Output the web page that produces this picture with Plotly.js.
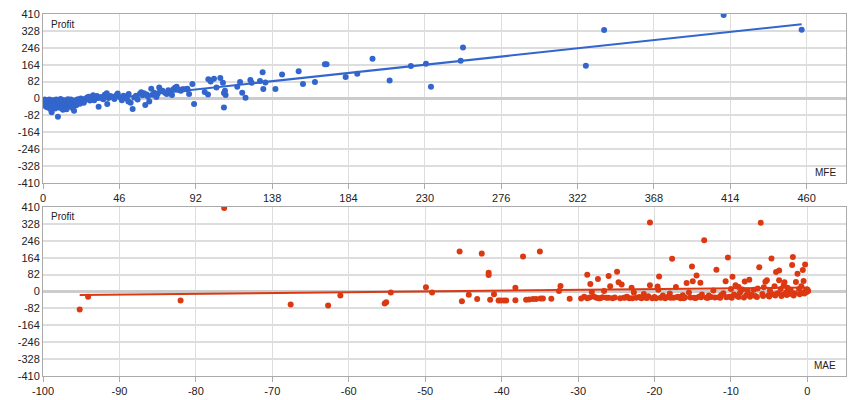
<!DOCTYPE html>
<html>
<head>
<meta charset="utf-8">
<script src="https://cdn.plot.ly/plotly-3.0.1.min.js"></script>
<style>
  html, body { margin: 0; padding: 0; background: #fff; }
  #chart { width: 860px; height: 400px; }
</style>
</head>
<body>
<div id="chart"></div>
<script>
// MFE chart (top)
const mfe = [
  0.5, 0.8, 1, 1.2, 1.5, 1.8, 2, 2.2, 2.5, 2.8, 3, 3.2, 3.5, 3.8, 4, 4.2, 4.5, 4.8, 5, 5.2,
  5.5, 5.8, 6, 6.3, 6.6, 7, 7.3, 7.6, 8, 8.3, 8.6, 9, 9.2, 9.5, 10, 10.3, 10.6, 11, 11.4, 11.8,
  12, 12.4, 12.8, 13.2, 13.6, 14, 14.2, 14.6, 15, 15.5, 16, 16.3, 16.8, 17.2, 17.6, 18, 18.7, 19.3, 19.8, 20,
  20.5, 21, 21.6, 22.2, 22.8, 23.2, 23.8, 24.6, 25.2, 26, 26.6, 27.6, 28.3, 29.2, 30.2, 30.8, 31.6, 32.5, 33.5, 34.2,
  35.4, 36.3, 37.2, 38.4, 38.7, 39.5, 40.5, 42, 43, 44.4, 45, 46.4, 47.5, 48.5, 49.6, 50.5, 51.4, 51.6, 52.8, 54,
  55, 56, 57, 58.4, 59.2, 60, 60.8, 61.6, 62.5, 63.2, 64, 65.2, 66, 67, 68.3, 69, 70, 70.5, 72, 73.5,
  74.5, 75.5, 76.5, 77.7, 78.5, 79.5, 80.5, 81.5, 83, 84, 85, 86.9, 87, 88, 90, 91, 97.4, 99.4, 99.6, 101,
  103, 104.5, 106.8, 108.4, 109, 109, 109.6, 110, 117, 118.7, 120, 122, 124.9, 125.7, 130.7, 132.3, 132.7, 134, 140, 144,
  154, 156.6, 163.8, 169.8, 170.8, 182.3, 189.3, 198.5, 208.8, 221.6, 230.7, 233.7, 251.6, 253, 327, 338, 410, 457
];
const mfeProfit = [
  -10, -25, -5, -30, -15, -40, -20, -8, -35, -22, -12, -45, -28, -5, -18, -38, -25, -55, -10, -67,
  -30, -20, -40, -8, -33, -15, -48, -25, -5, -38, -20, -88, -30, -12, -45, -22, -2, -35, -15, -29,
  -55, -8, -40, -20, -48, -10, -52, -28, -3, -35, -18, -36, -5, -25, -45, -12, -59, -20, -8, -33,
  -15, -3, -12, -25, 0, -4, -14, -20, -2, -5, 5, 9, -10, -4, 16, -8, 1, 12, -40, 5,
  8, -3, 18, 25, -27, 3, 12, 9, -2, 17, 24, 6, -8, 14, 9, 0, -15, 22, -20, -51,
  5, 14, -5, 23, 30, 16, 25, -32, 20, 10, -14, 48, 18, 28, 8, 22, 54, 35, 38, 28,
  22, 40, 26, 17, 45, 52, 57, 42, 38, 45, 45, 48, 45, 22, 70, -27, 32, 19, 93, 82,
  96, 54, 99, 77, 27, -43, 38, 17, 57, 80, 28, 4, 90, 77, 85, 127, 46, 78, 46, 116,
  132, 70, 80, 166, 166, 104, 120, 193, 88, 158, 169, 57, 183, 247, 159, 332, 405, 334
];

// MAE chart (bottom)
const mae = [
  -95.2, -94.1, -82, -76.3, -67.6, -62.7, -61.1, -55.3, -55.1, -54.5, -49.9, -49.1, -45.5, -45.2, -44.3, -43.2, -42.6, -41.7, -41.7, -41.5,
  -41, -40.4, -40.1, -39.7, -39.4, -38.2, -38.2, -37.2, -36.8, -36.4, -35.9, -35.5, -35, -34.9, -34.6, -33.5, -32.5, -32.3, -31.1, -29.6,
  -29.2, -28.8, -28.8, -28.4, -28.2, -27.9, -27.6, -27.4, -27.1, -26.8, -26.6, -26.3, -26, -25.8, -25.5, -25.2, -24.9, -24.7, -24.3, -24,
  -23.6, -23.3, -23, -22.7, -22.4, -22, -21.7, -21.4, -21.1, -20.8, -20.6, -20.6, -20.3, -20, -19.6, -19.4, -19.5, -19.2, -18.9, -18.6,
  -18.3, -18, -17.7, -17.5, -17.2, -16.9, -16.6, -16.3, -16, -15.8, -15.5, -15.1, -15, -14.8, -14.5, -14.2, -14, -13.8, -13.5, -13.2,
  -12.9, -12.6, -12.3, -11.9, -11.6, -11.3, -11, -10.7, -10.4, -10.2, -10, -9.8, -9.6, -9.4, -9.2, -9, -8.8, -8.5, -8.2, -8,
  -7.8, -7.6, -7.3, -7, -6.8, -6.5, -6.3, -6.1, -5.9, -5.7, -5.5, -5.3, -5.1, -4.9, -4.7, -4.5, -4.3, -4.1, -3.9, -3.7,
  -3.7, -3.5, -3.3, -3.1, -3, -2.8, -2.6, -2.4, -2.2, -2, -1.9, -1.7, -1.5, -1.3, -1.1, -0.9, -0.8, -0.6, -0.5, -0.3,
  -0.2, -0.1, 0, 0.1, -28.5, -27.3, -26, -24.5, -23.8, -22.9, -21.9, -21, -19.8, -19, -17.9, -17.1, -16.2, -15.3, -14.6, -13.9,
  -13, -12.1, -11.4, -10.6, -9.9, -9, -8.3, -7.5, -6.6, -5.8, -5, -4.2, -3.4, -2.7, -1.8, -1, -0.4
];
const maeProfit = [
  -87, -26, -44, 405, -63, -68, -19, -58, -52, -5, 21, -5, 194, -48, -16, -37, 184, 91, 80, -40,
  -13, -44, -44, -44, -44, 18, -42, 170, -40, -39, -37, -36, 194, -34, -34, -35, 2, 26, -35, -34,
  -25, 81, -33, 36, -3, -26, -31, 60, -33, -28, 2, -31, 75, 25, -33, -29, 96, 45, 34, -31,
  -26, -33, 18, -5, -31, -27, -33, -12, -30, -23, 335, 30, -33, -27, 24, 73, 8, -31, -20, -33,
  -27, -10, 159, -31, 22, -25, -33, -18, -29, 41, -5, 121, 49, -31, 78, -25, 42, -15, 249, -30,
  -20, -27, 5, 105, -28, -18, -8, 50, 165, -26, 12, 71, -15, 30, -22, 22, -5, 10, 48, -18,
  3, 57, -16, 8, -22, 15, 117, 333, -12, 20, 47, 54, -18, 5, 160, -14, 25, 94, -8, 102,
  54, 12, -16, 30, 45, -5, 18, -12, 8, 128, 167, -8, 46, 86, 12, -3, 25, 104, 51, 131,
  5, -2, 10, 2, -29, -33, -30, -33, -29, -33, -29, -32, -33, -28, -31, -28, -33, -29, -32, -28,
  -31, -29, -31, -28, -30, -27, -29, -25, -27, -22, -24, -20, -22, -17, -19, -14, -10
];

const yTicks = [410, 328, 246, 164, 82, 0, -82, -164, -246, -328, -410];
const mfeTicks = [0, 46, 92, 138, 184, 230, 276, 322, 368, 414, 460];
const maeTicks = [-100, -90, -80, -70, -60, -50, -40, -30, -20, -10, 0];

// least squares trend line across the x extent of the points
function trend(xs, ys) {
  const n = xs.length;
  let sx = 0, sy = 0, sxx = 0, sxy = 0;
  for (let i = 0; i < n; i++) {
    sx += xs[i]; sy += ys[i]; sxx += xs[i] * xs[i]; sxy += xs[i] * ys[i];
  }
  const slope = (n * sxy - sx * sy) / (n * sxx - sx * sx);
  const icpt = (sy - slope * sx) / n;
  const x0 = Math.min(...xs), x1 = Math.max(...xs);
  return { x: [x0, x1], y: [icpt + slope * x0, icpt + slope * x1] };
}

const blue = '#3366cc';
const red = '#dc3912';
const topTrend = trend(mfe, mfeProfit);
const botTrend = trend(mae, maeProfit);

const data = [
  { x: mfe, y: mfeProfit, type: 'scatter', mode: 'markers', xaxis: 'x', yaxis: 'y',
    marker: { color: blue, size: 6 }, hoverinfo: 'x+y' },
  { x: topTrend.x, y: topTrend.y, type: 'scatter', mode: 'lines', xaxis: 'x', yaxis: 'y',
    line: { color: blue, width: 2 }, hoverinfo: 'skip' },
  { x: mae, y: maeProfit, type: 'scatter', mode: 'markers', xaxis: 'x2', yaxis: 'y2',
    marker: { color: red, size: 6 }, hoverinfo: 'x+y' },
  { x: botTrend.x, y: botTrend.y, type: 'scatter', mode: 'lines', xaxis: 'x2', yaxis: 'y2',
    line: { color: red, width: 2 }, hoverinfo: 'skip' }
];

const xBase = {
  showgrid: true, gridcolor: '#dddddd', gridwidth: 1,
  showline: true, linecolor: '#aaaaaa', linewidth: 1, mirror: true,
  zeroline: false, ticks: 'outside', ticklen: 5, tickcolor: '#aaaaaa',
  tickfont: { size: 11, color: '#222' }
};
const yBase = {
  range: [-410, 410], tickvals: yTicks, ticktext: yTicks.map(String),
  showgrid: true, gridcolor: '#dddddd', gridwidth: 2,
  showline: true, linecolor: '#aaaaaa', linewidth: 1, mirror: true,
  zeroline: true, zerolinecolor: '#cccccc', zerolinewidth: 3,
  ticks: '', tickfont: { size: 11, color: '#222' }
};

const layout = {
  width: 860, height: 400,
  margin: { l: 43, r: 14, t: 14, b: 24 },
  paper_bgcolor: '#fff', plot_bgcolor: '#fff',
  showlegend: false,
  font: { family: 'Liberation Sans, Arial, sans-serif', size: 11, color: '#222' },
  xaxis: Object.assign({}, xBase, { domain: [0, 1], anchor: 'y', range: [0, 483.7],
    tickvals: mfeTicks, ticktext: mfeTicks.map(String) }),
  yaxis: Object.assign({}, yBase, { domain: [0.533, 1], anchor: 'x' }),
  xaxis2: Object.assign({}, xBase, { domain: [0, 1], anchor: 'y2', range: [-100, 5.05],
    tickvals: maeTicks, ticktext: maeTicks.map(String) }),
  yaxis2: Object.assign({}, yBase, { domain: [0, 0.467], anchor: 'x2' }),
  annotations: [
    { text: 'Profit', xref: 'x domain', yref: 'y domain', x: 0.008, y: 0.985,
      xanchor: 'left', yanchor: 'top', showarrow: false, font: { size: 10, color: '#222' } },
    { text: 'MFE', xref: 'x domain', yref: 'y domain', x: 0.99, y: 0.02,
      xanchor: 'right', yanchor: 'bottom', showarrow: false, font: { size: 10, color: '#222' } },
    { text: 'Profit', xref: 'x2 domain', yref: 'y2 domain', x: 0.008, y: 0.985,
      xanchor: 'left', yanchor: 'top', showarrow: false, font: { size: 10, color: '#222' } },
    { text: 'MAE', xref: 'x2 domain', yref: 'y2 domain', x: 0.99, y: 0.02,
      xanchor: 'right', yanchor: 'bottom', showarrow: false, font: { size: 10, color: '#222' } }
  ]
};

Plotly.newPlot('chart', data, layout, { displayModeBar: false, staticPlot: true });
</script>
</body>
</html>
